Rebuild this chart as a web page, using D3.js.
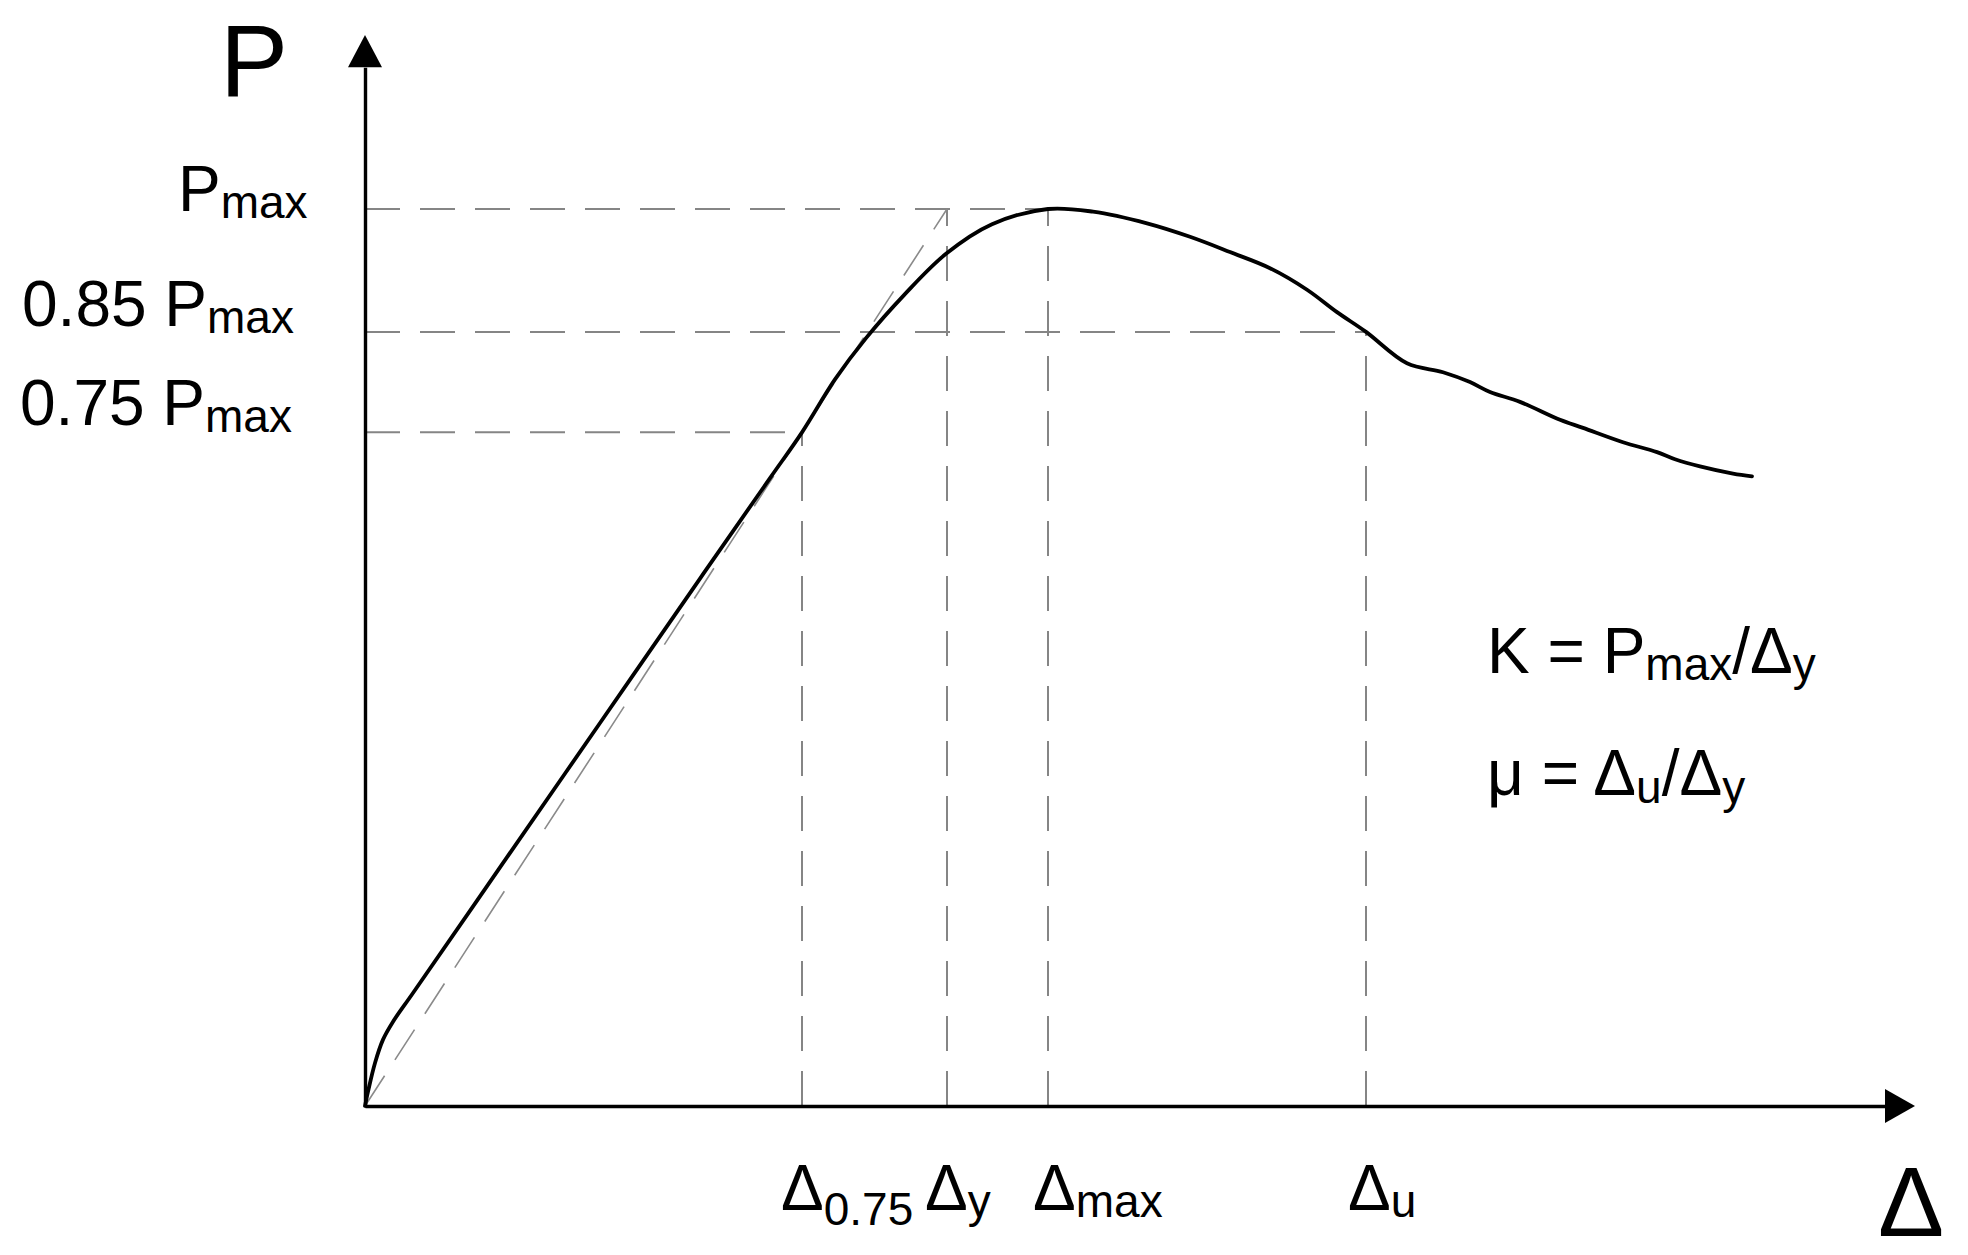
<!DOCTYPE html>
<html>
<head>
<meta charset="utf-8">
<script src="https://cdn.jsdelivr.net/npm/d3@7"></script>
<style>
  html, body { margin: 0; padding: 0; background: #fff; }
  svg { display: block; font-family: "Liberation Sans", Arial, sans-serif; }
</style>
</head>
<body>
<svg id="chart" width="1968" height="1255"></svg>
<script>
// ---- data (displacement in arbitrary units, load with Pmax = 100) ----
const curveX = [0, 0.3, 1.0, 1.8, 2.8, 4.8, 13.5, 23.5, 33.5, 40.5, 43.7, 47.0, 50.1, 53.9, 58.1, 62.7, 68.3,
  72.8, 78.2, 82.5, 86.5, 90.5, 94.2, 97.2, 100.1, 104.2, 107.8, 110.5, 112.5, 115.5, 119.5, 121.8, 125.8, 129.2, 131.0, 133.5, 136.8, 138.7];
const curveP = [0, 1.6, 4.8, 7.4, 9.4, 12.6, 26.6, 42.7, 58.8, 70.0, 75.1, 81.0, 85.6, 90.4, 95.0, 98.3, 100,
  99.7, 98.4, 96.9, 95.2, 93.4, 91.0, 88.5, 86.3, 82.8, 81.8, 80.7, 79.6, 78.5, 76.5, 75.6, 74.0, 72.9, 72.1, 71.3, 70.5, 70.2];

// characteristic load levels (as drawn)
const levelNames = ["Pmax", "0.85 Pmax", "0.75 Pmax"];
const levelValues = [100, 86.3, 75.1];
// characteristic displacements
const dispNames = ["Δ0.75", "Δy", "Δmax", "Δu"];
const dispValues = [43.7, 58.2, 68.3, 100.1];
// which level each displacement is linked to
const dispLevel = [75.1, 100, 100, 86.3];
const levelDisp = [68.3, 100.1, 43.7];

const xMax = 155, yMax = 119.4;

// ---- setup ----
const svg = d3.select("#chart");
svg.append("rect").attr("width", 1968).attr("height", 1255).attr("fill", "#fff");

const x = d3.scaleLinear().domain([0, xMax]).range([365, 1915]);
const y = d3.scaleLinear().domain([0, 100]).range([1106, 209]);

const dashColor = "#858585";

// ---- guide lines ----
const g = svg.append("g");
levelValues.forEach((v, i) => {
  g.append("line")
    .attr("x1", x(0)).attr("x2", x(levelDisp[i]))
    .attr("y1", y(v)).attr("y2", y(v))
    .attr("stroke", dashColor).attr("stroke-width", 2)
    .attr("stroke-dasharray", "35,20");
});
dispValues.forEach((v, i) => {
  g.append("line")
    .attr("x1", x(v)).attr("x2", x(v))
    .attr("y1", y(0)).attr("y2", y(dispLevel[i]))
    .attr("stroke", dashColor).attr("stroke-width", 2)
    .attr("stroke-dasharray", "35,20");
});
// secant stiffness line
g.append("line")
  .attr("x1", x(0)).attr("y1", y(0))
  .attr("x2", x(dispValues[1])).attr("y2", y(100))
  .attr("stroke", "#8a8a8a").attr("stroke-width", 1.6)
  .attr("stroke-dasharray", "36,19");

// ---- curve ----
const pts = curveX.map((d, i) => [d, curveP[i]]);
svg.append("path")
  .datum(pts)
  .attr("fill", "none")
  .attr("stroke", "#000")
  .attr("stroke-width", 3.8)
  .attr("stroke-linejoin", "round")
  .attr("stroke-linecap", "round")
  .attr("d", d3.line().x(d => x(d[0])).y(d => y(d[1])).curve(d3.curveCatmullRom.alpha(0.5)));

// ---- axes ----
const xAxisScale = d3.scaleLinear().domain([0, 152]).range([x(0), x(152)]);
const yAxisScale = d3.scaleLinear().domain([0, 115.8]).range([y(0), y(115.8)]);
const xAxisG = svg.append("g").attr("transform", `translate(0,${y(0)})`)
  .call(d3.axisBottom(xAxisScale).tickValues([]).tickSizeOuter(0));
const yAxisG = svg.append("g").attr("transform", `translate(${x(0)},0)`)
  .call(d3.axisLeft(yAxisScale).tickValues([]).tickSizeOuter(0));
[xAxisG, yAxisG].forEach(a => a.select(".domain").attr("stroke", "#000").attr("stroke-width", 3.4));

// arrows
svg.append("path")
  .attr("d", `M${x(xMax)},${y(0)} L${x(152)},${y(0) - 17} L${x(152)},${y(0) + 17} Z`)
  .attr("fill", "#000");
svg.append("path")
  .attr("d", `M${x(0)},${y(yMax)} L${x(0) - 17},${y(115.8)} L${x(0) + 17},${y(115.8)} Z`)
  .attr("fill", "#000");

// ---- text helpers ----
function label(parent, xPos, yPos, parts, size) {
  const t = parent.append("text").attr("x", xPos).attr("y", yPos)
    .attr("font-size", size).attr("fill", "#000");
  let shift = 0;
  parts.forEach(p => {
    const ts = t.append("tspan").text(p.t);
    const want = p.dy || 0;
    ts.attr("dy", want - shift);
    shift = want;
    if (p.s) ts.attr("font-size", p.s);
  });
  return t;
}

// axis titles
label(svg, 220, 96, [{t: "P"}], 102);
label(svg, 1878, 1236, [{t: "Δ"}], 99);

// level labels
const levelLabelPos = [[178, 211], [22, 326], [20, 425]];
const levelMain = ["P", "0.85 P", "0.75 P"];
levelValues.forEach((v, i) => {
  label(svg, levelLabelPos[i][0], levelLabelPos[i][1],
    [{t: levelMain[i]}, {t: "max", s: 46, dy: 7}], 64);
});

// displacement labels
const dispParts = [
  [{t: "Δ"}, {t: "0.75", s: 46, dy: 15}],
  [{t: "Δ"}, {t: "y", s: 46, dy: 7}],
  [{t: "Δ"}, {t: "max", s: 46, dy: 7}],
  [{t: "Δ"}, {t: "u", s: 46, dy: 7}]
];
const dispLabelX = [781, 925, 1033, 1348];
dispValues.forEach((v, i) => {
  label(svg, dispLabelX[i], 1210, dispParts[i], 64);
});

// formulas
label(svg, 1487, 673, [{t: "K = P"}, {t: "max", s: 46, dy: 7}, {t: "/Δ", dy: 0}, {t: "y", s: 46, dy: 7}], 64);
label(svg, 1487, 795, [{t: "μ = Δ"}, {t: "u", s: 46, dy: 8}, {t: "/Δ", dy: 0}, {t: "y", s: 46, dy: 8}], 64);
</script>
</body>
</html>
